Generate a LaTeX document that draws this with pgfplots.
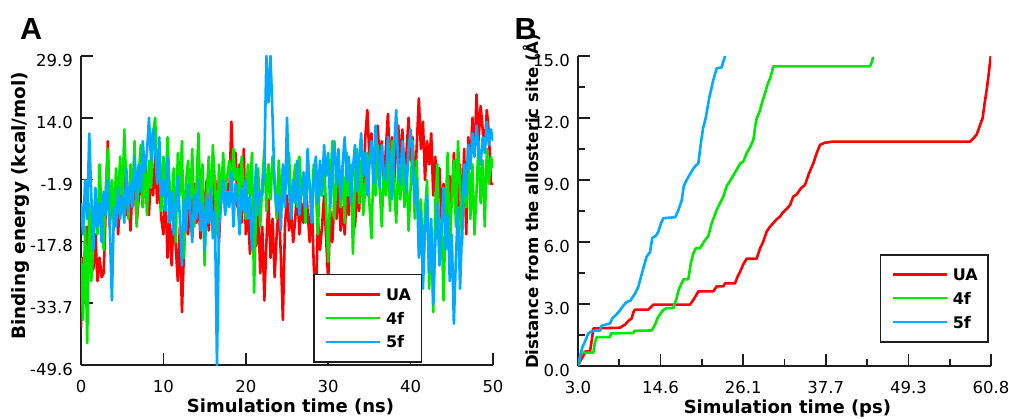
\documentclass[border=0pt]{standalone}
\usepackage{fontspec}
\setmainfont{DejaVu Sans}
\newfontfamily\panelfont{Liberation Sans}
\usepackage{pgfplots}
\usepackage{pgfplotstable}
\pgfplotsset{compat=1.18}
\definecolor{cua}{RGB}{255,0,0}
\definecolor{cff}{RGB}{0,232,0}
\definecolor{cfv}{RGB}{0,170,255}
\definecolor{axc}{RGB}{30,30,30}

\pgfplotstableread{
t ua f4 f5
0 -40 -22 -8
0.25 -22 -38 -16
0.5 -32 -14 -2
0.75 -14 -44 -12
1 -20 -8 10
1.25 -12 -28 -6
1.5 -25 -18 -20
1.75 -16 -6 -4
2 -28 -16 -14
2.25 -22 2 -8
2.5 -27 -10 -18
2.75 -26 -20 -5
3 -10 -4 -11
3.25 8 6 -2
3.5 -14 -12 -15
3.75 -4 -2 -33
4 -12 -14 -9
4.25 -3 1 -14
4.5 -16 -8 -4
4.75 -6 4 -12
5 -9 -10 -6
5.25 2 11 -13
5.5 -11 -3 1
5.75 -5 -12 -10
6 -15 2 -3
6.25 -4 -6 -9
6.5 -2 8 4
6.75 -13 -14 -7
7 -7 -1 2
7.25 0 7 -5
7.5 -9 -9 8
7.75 3 4 0
8 -3 -11 5
8.25 -11 3 14
8.5 1 -4 3
8.75 -6 10 11
9 4 14 6
9.25 -8 -2 -3
9.5 -2 6 9
9.75 -12 -10 -6
10 -16 4 -2
10.25 -5 -7 -10
10.5 -22 9 4
10.75 -13 -3 -13
11 -24 -12 -5
11.25 -10 1 -16
11.5 -19 -18 -8
11.75 -28 5 -1
12 -14 -6 -12
12.25 -36 8 -24
12.5 -20 -22 -7
12.75 -9 -2 -15
13 -16 3 -3
13.25 -6 -9 -10
13.5 -11 6 -18
13.75 -3 -14 -6
14 -13 -4 -12
14.25 -7 10 -2
14.5 -17 -8 -15
14.75 -4 2 -8
15 -10 -24 -20
15.25 -2 -6 -6
15.5 -15 4 -13
15.75 -6 -11 -4
16 -12 7 -17
16.25 -1 -3 -10
16.5 -8 -16 -49.6
16.75 -18 2 -14
17 -5 -8 -8
17.25 1 5 -2
17.5 -10 -5 -11
17.75 -3 -1 -5
18 -6 3 -9
18.25 13 -6 0
18.5 -2 6 -14
18.75 5 -2 -3
19 -9 1 -7
19.25 2 -8 -16
19.5 -13 4 -4
19.75 6 -4 -10
20 -16 -12 -2
20.25 -8 2 -12
20.5 -21 -6 -6
20.75 -11 5 -20
21 -4 -31 -9
21.25 -19 -9 2
21.5 -10 1 -11
21.75 -26 -14 -5
22 -14 -3 -6
22.25 -33 6 2
22.5 -18 -10 29.9
22.75 -7 2 18
23 -22 -7 29.9
23.25 -12 4 14
23.5 -27 -2 -4
23.75 -16 -12 -10
24 -9 3 -6
24.25 -21 -8 -15
24.5 -38 1 2
24.75 -14 -5 -9
25 -6 -2 14
25.25 -15 5 -4
25.5 -10 -11 -12
25.75 -18 -3 -2
26 -12 2 -8
26.25 -4 -9 3
26.5 -16 4 -11
26.75 -8 -6 -5
27 -13 -1 0
27.25 -2 -13 -9
27.5 -10 3 6
27.75 -18 -4 -4
28 -7 -8 -13
28.25 -24 2 -2
28.5 -35 -5 4
28.75 -12 -16 -8
29 -20 1 3
29.25 -14 -6 -6
29.5 -6 4 7
29.75 -17 -10 -1
30 -28 -23 5
30.25 -10 -4 -9
30.5 -18 8 1
30.75 -7 -12 8
31 -12 -3 -3
31.25 -3 4 6
31.5 -15 -9 -7
31.75 -9 1 2
32 -16 -13 9
32.25 -5 5 -2
32.5 -11 -6 4
32.75 0 2 -8
33 -8 -21 1
33.25 -14 -2 7
33.5 -4 6 -5
33.75 -10 -8 3
34 2 3 10
34.25 -6 -11 -1
34.5 9 -4 5
34.75 16 5 -6
35 4 -8 2
35.25 10 -17 8
35.5 -2 2 -3
35.75 7 -6 12
36 12 7 4
36.25 3 -4 -4
36.5 8 -14 7
36.75 -4 1 0
37 6 -6 -2
37.25 15 4 9
37.5 1 -10 3
37.75 9 8 -7
38 -3 -3 6
38.25 7 -13 16
38.5 12 2 1
38.75 2 -7 -3
39 11 5 8
39.25 -1 -9 2
39.5 5 1 -5
39.75 14 -15 6
40 3 -4 11
40.25 9 8 3
40.5 -5 -12 -8
40.75 7 3 -2
41 19 -18 -22
41.25 6 -7 -10
41.5 13 -25 -30
41.75 -2 -10 -15
42 8 -2 -6
42.25 2 -30 -26
42.5 10 -14 -12
42.75 -6 -36 -34
43 4 -8 -18
43.25 -8 2 -8
43.5 1 -20 -24
43.75 -12 -12 -14
44 -3 -33 -4
44.25 -15 -10 -20
44.5 -6 5 -11
44.75 -1 -22 -28
45 -9 -6 -16
45.25 5 3 -39
45.5 -4 -14 -22
45.75 -14 8 -9
46 2 -4 -30
46.25 -11 -18 -14
46.5 6 1 2
46.75 -16 -9 -6
47 9 6 7
47.25 1 -12 1
47.5 14 2 10
47.75 4 -16 4
48 20 -5 12
48.25 8 8 6
48.5 17 -8 2
48.75 11 3 9
49 6 -14 5
49.25 16 6 13
49.5 10 -3 7
49.75 -3 4 11
50 -3 1 8
}\energy

\pgfplotsset{
  panel/.style={
    scale only axis,
    axis lines*=left,
    axis line style={-, line width=1.7pt, axc},
    tick align=inside,
    major tick length=12pt,
    minor tick length=7pt,
    major tick style={draw=axc, line width=1.7pt},
    minor tick style={draw=axc, line width=1.7pt},
    ticklabel style={font=\fontsize{16.5}{18}\selectfont, inner sep=0pt},
    xticklabel style={anchor=north, yshift=-15pt},
    yticklabel style={anchor=east, xshift=-8pt, yshift=-4.5pt},
    legend cell align=left,
    legend image code/.code={\draw[##1, line width=2.6pt] (0pt,0pt) -- (54pt,0pt);},
    legend style={anchor=north east, draw=axc, line width=1.5pt, fill=white,
      font=\bfseries\fontsize{16}{18}\selectfont,
      inner xsep=10.5pt, inner ysep=14pt, row sep=11.6pt, column sep=5pt,
      nodes={inner sep=0pt, text depth=0pt}},
  },
  dline/.style={line width=2.6pt, line join=round},
}

\begin{document}
\begin{tikzpicture}
\path[use as bounding box] (0pt,0pt) rectangle (1009pt,418pt);

\node[anchor=base west, inner sep=0pt, font=\panelfont\bfseries\fontsize{30.5}{32}\selectfont] at (20pt,378pt) {A};
\node[anchor=base west, inner sep=0pt, font=\panelfont\bfseries\fontsize{30.5}{32}\selectfont] at (514.5pt,378.5pt) {B};

\begin{axis}[panel,
  at={(81pt,53pt)}, anchor=south west,
  width=412pt, height=309pt,
  xmin=0, xmax=50, ymin=-49.6, ymax=29.9,
  xtick={0,10,20,30,40,50}, xticklabels={0,10,20,30,40,50},
  ytick={-49.6,-33.7,-17.8,-1.9,14.0,29.9},
  yticklabels={-49.6,-33.7,-17.8,-1.9,14.0,29.9},
  xlabel={Simulation time (ns)},
  xlabel style={at={(axis description cs:0.5085,-0.155)}, anchor=base, font=\bfseries\fontsize{18}{20}\selectfont},
  ylabel={Binding energy (kcal/mol)},
  ylabel style={at={(axis description cs:-0.1335,0.515)}, anchor=base, rotate=0, font=\bfseries\fontsize{18.4}{20}\selectfont},
  legend style={at={(0.828,0.2945)}},
]
\addplot[cua, dline] table[x=t, y=ua] {\energy};
\addplot[cff, dline] table[x=t, y=f4] {\energy};
\addplot[cfv, dline] table[x=t, y=f5] {\energy};
\legend{UA,4f,5f}
\end{axis}

\begin{axis}[panel,
  at={(578pt,52pt)}, anchor=south west,
  width=413pt, height=310pt,
  xmin=3, xmax=60.8, ymin=0, ymax=15,
  xtick={3,14.56,26.12,37.68,49.24,60.8},
  xticklabels={3.0,14.6,26.1,37.7,49.3,60.8},
  minor xtick={8.78,20.34,31.9,43.46,55.02},
  ytick={0,3,6,9,12,15},
  yticklabels={0.0,3.0,6.0,9.0,12.0,15.0},
  minor ytick={1.5,4.5,7.5,10.5,13.5},
  xlabel={Simulation time (ps)},
  xlabel style={at={(axis description cs:0.507,-0.152)}, anchor=base, font=\bfseries\fontsize{18}{20}\selectfont},
  ylabel={Distance from the allosteric site (Å)},
  ylabel style={at={(axis description cs:-0.096,0.531)}, anchor=base, rotate=0, font=\bfseries\fontsize{16.6}{18}\selectfont},
  legend style={at={(0.995,0.361)}},
]
\addplot[cua, dline] coordinates {(3,0) (3.4,0.3) (3.75,0.5) (4.0,0.7) (4.68,0.7) (4.9,1.2) (5.15,1.82) (8.88,1.85) (9.3,1.95) (9.58,2.0) (10.1,2.2) (10.51,2.3) (10.75,2.6) (10.98,2.73) (12.84,2.73) (13.2,2.85) (13.54,2.97) (18.67,2.97) (19.14,3.2) (19.5,3.4) (19.84,3.61) (21.94,3.61) (22.4,3.85) (23.34,3.85) (23.57,4.0) (24.97,4.0) (25.3,4.3) (25.67,4.55) (26.1,4.9) (26.6,5.19) (28.0,5.19) (28.47,5.69) (28.9,6.0) (29.4,6.5) (29.87,6.74) (30.3,6.9) (30.8,7.1) (31.27,7.23) (31.6,7.4) (32.2,7.6) (32.67,7.79) (33.13,8.2) (33.6,8.3) (34.2,8.6) (34.77,8.76) (35.3,9.3) (35.93,9.81) (36.4,10.3) (36.87,10.7) (37.5,10.8) (38.73,10.86) (57.86,10.86) (58.3,11.0) (58.8,11.2) (59.2,11.6) (59.63,12.0) (59.9,12.7) (60.2,13.38) (60.5,14.2) (60.76,15.0)};
\addplot[cff, dline] coordinates {(3,0) (3.3,0.4) (3.5,0.65) (5.15,0.65) (5.35,1.1) (5.61,1.4) (7.48,1.4) (7.6,1.58) (10.74,1.6) (10.9,1.7) (13.31,1.72) (13.78,2.0) (14.1,2.3) (14.48,2.5) (14.9,2.7) (15.41,2.8) (16.34,2.8) (16.81,3.3) (17.1,3.7) (17.5,4.0) (17.8,4.2) (18.44,4.2) (18.8,5.0) (19.14,5.45) (19.5,5.7) (20.07,5.69) (20.6,6.0) (21.24,6.3) (21.7,6.9) (22.4,7.55) (22.9,7.9) (23.34,8.2) (23.8,8.7) (24.27,8.95) (24.7,9.2) (25.2,9.5) (25.7,9.8) (26.14,9.9) (26.6,10.3) (27.1,10.6) (27.54,10.94) (27.8,11.6) (28.0,11.98) (28.4,12.3) (28.8,12.8) (29.17,13.2) (29.5,13.6) (29.96,14.0) (30.33,14.5) (43.87,14.5) (44.1,14.7) (44.3,14.95)};
\addplot[cfv, dline] coordinates {(3,0) (3.3,0.5) (3.6,0.9) (4.0,1.2) (4.45,1.58) (5.0,1.7) (6.08,1.7) (6.3,1.95) (7.48,2.06) (7.8,2.3) (8.4,2.5) (8.9,2.7) (9.3,2.9) (9.81,3.1) (10.3,3.15) (10.98,3.5) (11.45,3.85) (11.8,4.3) (12.2,4.8) (12.6,5.29) (13.07,5.5) (13.4,6.2) (13.9,6.3) (14.24,6.5) (14.6,6.9) (14.94,7.15) (16.6,7.2) (17.0,7.5) (17.5,8.0) (17.8,8.7) (18.2,9.0) (18.7,9.3) (19.14,9.55) (19.5,9.7) (19.84,9.8) (20.2,10.8) (20.5,11.5) (20.87,12.0) (21.38,13.0) (21.94,13.84) (22.4,14.4) (23.1,14.45) (23.3,14.7) (23.6,15.0)};
\legend{UA,4f,5f}
\end{axis}
\end{tikzpicture}
\end{document}
